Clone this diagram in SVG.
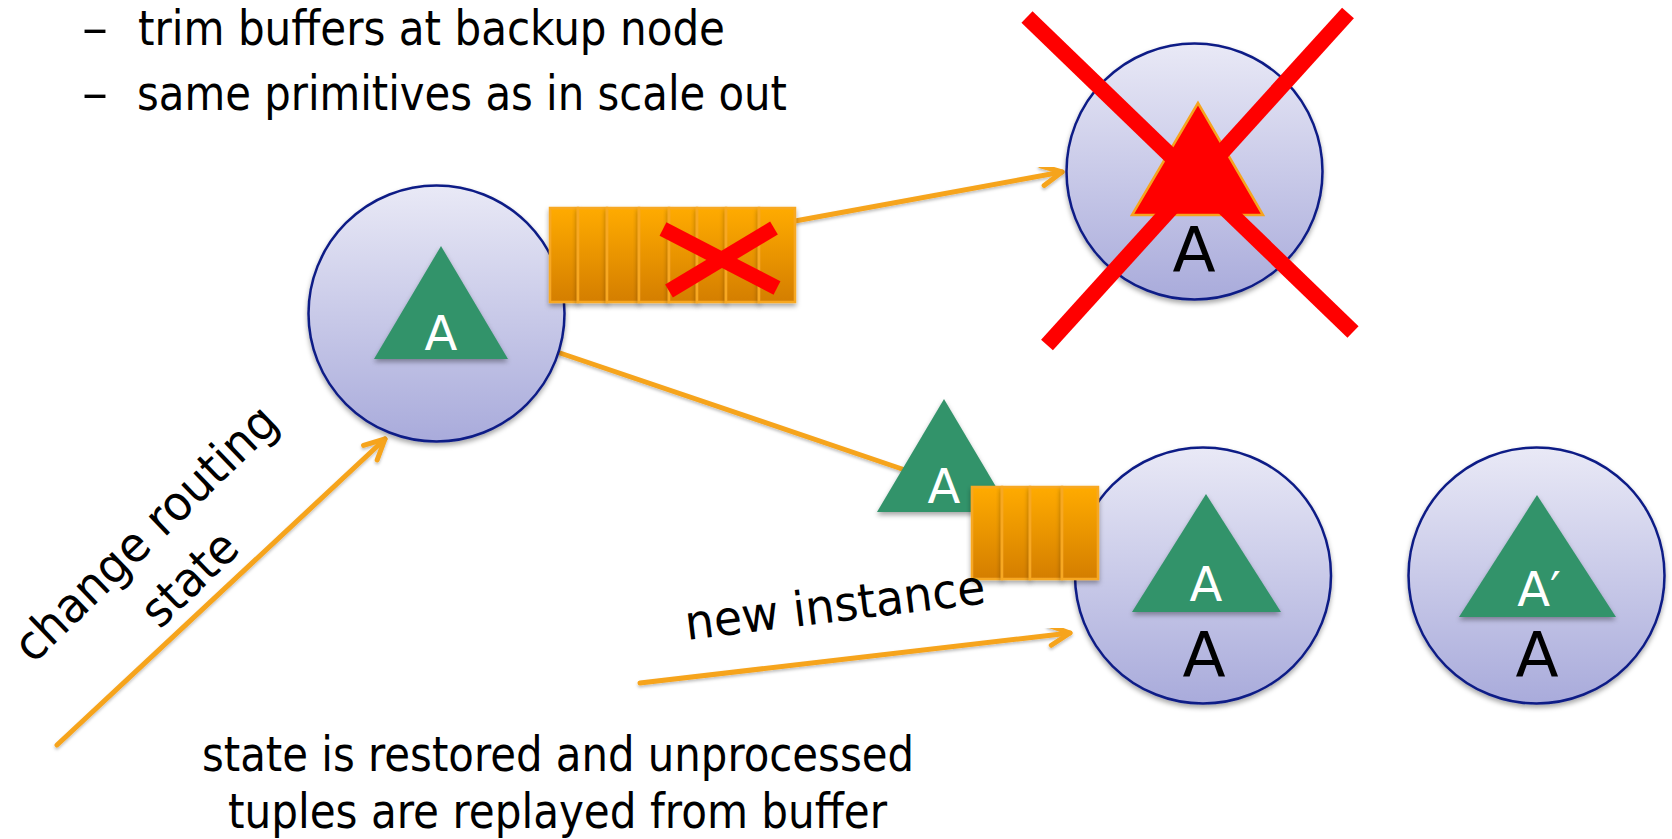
<svg xmlns="http://www.w3.org/2000/svg" width="1672" height="839" viewBox="0 0 1672 839">
<defs>
<linearGradient id="gNode" x1="0" y1="0" x2="0" y2="1"><stop offset="0" stop-color="#E9E9F6"/><stop offset="1" stop-color="#A9ABDB"/></linearGradient>
<linearGradient id="gBuf" x1="0" y1="0" x2="0" y2="1"><stop offset="0" stop-color="#FFAB00"/><stop offset="1" stop-color="#D47E00"/></linearGradient>
<filter id="sh" x="-20%" y="-20%" width="140%" height="150%"><feDropShadow dx="0" dy="3" stdDeviation="2.5" flood-color="#000" flood-opacity="0.35"/></filter>
<filter id="lsh" x="-10%" y="-10%" width="120%" height="130%"><feDropShadow dx="0" dy="2" stdDeviation="1.5" flood-color="#000" flood-opacity="0.25"/></filter>
<marker id="arr" viewBox="-26 -14 30 28" refX="0" refY="0" markerWidth="30" markerHeight="28" markerUnits="userSpaceOnUse" orient="auto"><path d="M-20,-10 L0,0 L-20,10" fill="none" stroke="#F6A41E" stroke-width="5" stroke-linecap="round" stroke-linejoin="round"/></marker>
</defs>
<style>
.node{fill:url(#gNode);stroke:#0D1B86;stroke-width:2.5;filter:url(#sh)}
.op{fill:#33936B;filter:url(#sh)}
.dead{fill:#FF0000;stroke:#F6A41E;stroke-width:2.5}
.cell{fill:url(#gBuf);stroke:#F7A823;stroke-width:2.5;filter:url(#sh)}
.conn{fill:none;stroke:#F6A41E;stroke-width:5;stroke-linecap:round;filter:url(#lsh)}
.cross{stroke:#FF0000;stroke-linecap:butt;fill:none}
.txt{font-family:"DejaVu Sans","Liberation Sans",sans-serif;font-size:48px;fill:#000}
.wl{font-family:"DejaVu Sans","Liberation Sans",sans-serif;font-size:48px;fill:#FFFFFF;text-anchor:middle}
.bl{font-family:"DejaVu Sans","Liberation Sans",sans-serif;font-size:63px;fill:#000;text-anchor:middle}
</style>
<rect width="1672" height="839" fill="#FFFFFF"/>

<g id="bullets">
<text class="txt" x="82" y="45" textLength="26" lengthAdjust="spacingAndGlyphs">–</text>
<text class="txt" x="138" y="45" textLength="587" lengthAdjust="spacingAndGlyphs">trim buffers at backup node</text>
<text class="txt" x="82" y="110" textLength="26" lengthAdjust="spacingAndGlyphs">–</text>
<text class="txt" x="137" y="110" textLength="650" lengthAdjust="spacingAndGlyphs">same primitives as in scale out</text>
</g>

<g id="connectors">
<path class="conn" d="M795,221 L1062,172" marker-end="url(#arr)"/>
<path class="conn" d="M560,353 L905,470"/>
<path class="conn" d="M57,745 L385,439" marker-end="url(#arr)"/>
<path class="conn" d="M640,683 L1070,633" marker-end="url(#arr)"/>
</g>

<g id="node-A">
<circle class="node" cx="436.5" cy="313.5" r="128"/>
<polygon class="op" points="441,246 374,359 508,359"/>
<text class="wl" x="441" y="350">A</text>
</g>

<g id="buffer-A">
<rect class="cell" x="550" y="208" width="28" height="94"/>
<rect class="cell" x="578" y="208" width="29" height="94"/>
<rect class="cell" x="607" y="208" width="32" height="94"/>
<rect class="cell" x="639" y="208" width="30" height="94"/>
<rect class="cell" x="669" y="208" width="28" height="94"/>
<rect class="cell" x="697" y="208" width="29" height="94"/>
<rect class="cell" x="726" y="208" width="33" height="94"/>
<rect class="cell" x="759" y="208" width="36" height="94"/>
<g class="cross" stroke-width="15">
<line x1="663" y1="229" x2="777" y2="288"/>
<line x1="774" y1="228" x2="669" y2="291"/>
</g>
</g>

<g id="node-failed">
<circle class="node" cx="1194.5" cy="171.5" r="128"/>
<polygon class="dead" points="1198,103 1132,215 1263,215"/>
<text class="bl" x="1194" y="272">A</text>
</g>

<g id="moving-A">
<polygon class="op" points="944,399 877,512 1011,512"/>
<text class="wl" x="944" y="503">A</text>
</g>

<g id="node-new">
<circle class="node" cx="1203" cy="575.5" r="128"/>
<polygon class="op" points="1206,494 1132,612 1281,612"/>
<text class="wl" x="1206" y="601">A</text>
<text class="bl" x="1204" y="677">A</text>
</g>

<g id="buffer-new">
<rect class="cell" x="972" y="487" width="30" height="92"/>
<rect class="cell" x="1002" y="487" width="28" height="92"/>
<rect class="cell" x="1030" y="487" width="32" height="92"/>
<rect class="cell" x="1062" y="487" width="36" height="92"/>
</g>

<g id="node-Aprime">
<circle class="node" cx="1536.5" cy="575.5" r="128"/>
<polygon class="op" points="1537,495 1459,617 1616,617"/>
<text class="wl" x="1539" y="606">A′</text>
<text class="bl" x="1537" y="677">A</text>
</g>

<g id="failure-cross" class="cross" stroke-width="16">
<line x1="1027" y1="17" x2="1353" y2="332"/>
<line x1="1348" y1="13" x2="1047" y2="345"/>
</g>

<g id="labels">
<g transform="translate(157,545) rotate(-44)">
<text class="txt" x="0" y="0" font-size="52" text-anchor="middle" textLength="345" lengthAdjust="spacingAndGlyphs">change routing</text>
<text class="txt" x="0" y="63" font-size="52" text-anchor="middle" textLength="114" lengthAdjust="spacingAndGlyphs">state</text>
</g>
<text class="txt" transform="translate(687,640) rotate(-7)" x="0" y="0" font-size="52" textLength="302" lengthAdjust="spacingAndGlyphs">new instance</text>
<text class="txt" x="202" y="771" textLength="712" lengthAdjust="spacingAndGlyphs">state is restored and unprocessed</text>
<text class="txt" x="228" y="828" textLength="659" lengthAdjust="spacingAndGlyphs">tuples are replayed from buffer</text>
</g>
</svg>
